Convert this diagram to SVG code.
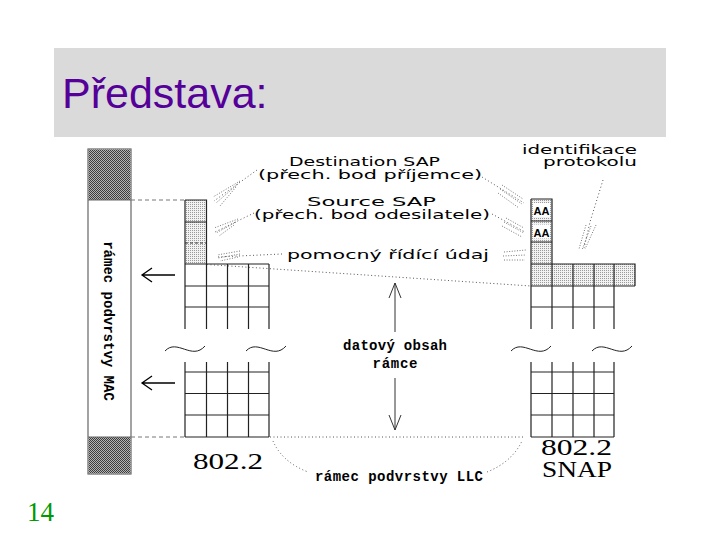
<svg xmlns="http://www.w3.org/2000/svg" width="720" height="540" viewBox="0 0 720 540">
<defs>
<pattern id="hd" width="2" height="2" patternUnits="userSpaceOnUse"><rect width="2" height="2" fill="#b4b4b4"/><rect width="1" height="1" fill="#3c3c3c"/><rect x="1" y="1" width="1" height="1" fill="#3c3c3c"/></pattern>
<pattern id="hl" width="2" height="2" patternUnits="userSpaceOnUse"><rect width="2" height="2" fill="#f2f2f2"/><rect width="1" height="1" fill="#9a9a9a"/></pattern>
<style>
.g{fill:none;stroke:#222;stroke-width:1.2}
.dot{fill:none;stroke:#555;stroke-width:1;stroke-dasharray:1 2.5}
.spr{fill:none;stroke:#777;stroke-width:1;stroke-dasharray:1 1.6}
.lbl{font-family:"DejaVu Sans",sans-serif;font-size:13px;fill:#000}
.mono{font-family:"Liberation Mono",monospace;font-weight:bold;font-size:14px;fill:#000}
.ser{font-family:"Liberation Serif",serif;font-size:23px;fill:#000}
.wave{fill:none;stroke:#222;stroke-width:1}
.arr{fill:none;stroke:#000;stroke-width:1.3}
</style>
</defs>
<rect width="720" height="540" fill="#fff"/>
<g id="header">
<rect x="54" y="48" width="612" height="89" fill="#dadada"/>
<text x="62" y="108" font-family="Liberation Sans, Arial, sans-serif" font-size="43" fill="#550099">Představa:</text>
</g>
<g id="page"><text x="27" y="521" font-family="Liberation Serif, serif" font-size="27" fill="#009900">14</text></g>

<g id="mac">
<rect x="88" y="149" width="43" height="325" fill="#fff" stroke="#666" stroke-width="1.2"/>
<rect x="88.6" y="149.6" width="41.8" height="50.4" fill="url(#hd)"/>
<rect x="88.6" y="437" width="41.8" height="36.4" fill="url(#hd)"/>
<line x1="88" y1="200" x2="131" y2="200" stroke="#666"/>
<line x1="88" y1="437" x2="131" y2="437" stroke="#666"/>
<text class="mono" font-size="12.5" transform="translate(104,321) rotate(90)" text-anchor="middle">rámec podvrstvy MAC</text>
</g>

<g id="left-stack">
<rect x="185" y="200" width="21.5" height="64" fill="url(#hl)"/>
<path class="g" d="M185,200 H206.5 V264 M185,200 V329 M185,222 H206.5 M206.5,264 V329 M227.5,264 V329 M248.5,264 V329 M269,264 V329 M185,264 H269 M185,286 H269 M185,307 H269"/>
<path d="M185,243 H206.5" stroke="#333" stroke-dasharray="3 2"/>
<path class="g" d="M185,362 V437 M206.5,362 V437 M227.5,362 V437 M248.5,362 V437 M269,362 V437 M185,372 H269 M185,393.5 H269 M185,415 H269 M185,437 H269"/>
<path class="wave" d="M165,351 C177,338 192,361 205,346"/>
<path class="wave" d="M246,351 C258,338 273,361 286,346"/>
<text class="ser" x="193" y="469" textLength="70" lengthAdjust="spacingAndGlyphs">802.2</text>
</g>

<g id="right-stack">
<rect x="531" y="199" width="21" height="65" fill="url(#hl)"/>
<rect x="531" y="264" width="104" height="22" fill="url(#hl)"/>
<rect x="533" y="203" width="17" height="14" fill="#fff"/>
<rect x="533" y="224.5" width="17" height="14" fill="#fff"/>
<text x="541.5" y="215" text-anchor="middle" font-family="Liberation Sans, sans-serif" font-weight="bold" font-size="11.5" textLength="16" lengthAdjust="spacingAndGlyphs">AA</text>
<text x="541.5" y="236.5" text-anchor="middle" font-family="Liberation Sans, sans-serif" font-weight="bold" font-size="11.5" textLength="16" lengthAdjust="spacingAndGlyphs">AA</text>
<path class="g" d="M531,199 H552 V264 M531,199 V329 M531,221 H552 M531,242 H552 M531,264 H635 V286 M531,286 H635 M552,264 V329 M573,264 V329 M594,264 V329 M614,264 V329 M531,307 H614"/>
<path class="g" d="M531,362 V437 M552,362 V437 M573,362 V437 M594,362 V437 M614,362 V437 M531,372 H614 M531,393.5 H614 M531,415 H614 M531,437 H614"/>
<path class="wave" d="M511,351 C523,338 538,361 551,346"/>
<path class="wave" d="M592,351 C604,338 619,361 632,346"/>
<text class="ser" x="541" y="455" textLength="71" lengthAdjust="spacingAndGlyphs">802.2</text>
<text class="ser" x="542" y="477" textLength="70" lengthAdjust="spacingAndGlyphs">SNAP</text>
</g>

<g id="labels">
<text class="lbl" x="289" y="166" textLength="151" lengthAdjust="spacingAndGlyphs">Destination SAP</text>
<text class="lbl" x="258" y="179" textLength="224" lengthAdjust="spacingAndGlyphs">(přech. bod příjemce)</text>
<text class="lbl" x="307" y="206" textLength="129" lengthAdjust="spacingAndGlyphs">Source SAP</text>
<text class="lbl" x="254" y="219" textLength="236" lengthAdjust="spacingAndGlyphs">(přech. bod odesilatele)</text>
<text class="lbl" x="287" y="259" textLength="202" lengthAdjust="spacingAndGlyphs">pomocný řídící údaj</text>
<text class="lbl" x="522" y="154" textLength="115" lengthAdjust="spacingAndGlyphs">identifikace</text>
<text class="lbl" x="543" y="166" textLength="94" lengthAdjust="spacingAndGlyphs">protokolu</text>
<text class="mono" x="395" y="350" text-anchor="middle" textLength="104" lengthAdjust="spacing">datový obsah</text>
<text class="mono" x="395" y="368" text-anchor="middle" textLength="45" lengthAdjust="spacing">rámce</text>
<text class="mono" x="399" y="481" text-anchor="middle" textLength="168" lengthAdjust="spacing">rámec podvrstvy LLC</text>
</g>

<g id="connectors">
<line x1="131" y1="200" x2="185" y2="200" stroke="#777" stroke-dasharray="4 3"/>
<line x1="131" y1="437" x2="185" y2="437" stroke="#777" stroke-dasharray="4 3"/>
<path class="arr" d="M175,275 H142 M152,268 L142,275 L152,282"/>
<path class="arr" d="M175,383 H142 M152,376 L142,383 L152,390"/>
<path stroke="#333" fill="none" d="M395,332 V283 M389,298 L395,283 L401,298"/>
<path stroke="#333" fill="none" d="M395,378 V430 M389,415 L395,430 L401,415"/>
<path class="dot" d="M207,264.5 L531,286"/>
<path class="dot" d="M270,437 H525"/>
<path class="dot" d="M273,441 Q282,462 308,472"/>
<path class="dot" d="M487,472 Q512,462 522,441"/>
<path class="dot" d="M257,170 L214,201"/>
<path class="spr" d="M240,181 L213,197 M238,184 L216,203 M236,187 L220,206"/>
<path class="dot" d="M254,213 L215,232"/>
<path class="spr" d="M238,219 L214,228 M236,222 L216,233 M234,225 L219,236"/>
<path class="dot" d="M282,254 L217,257"/>
<path class="spr" d="M240,251 L217,255 M240,254 L218,258 M238,257 L220,261"/>
<path class="dot" d="M482,177 L524,203"/>
<path class="spr" d="M502,185 L523,199 M500,189 L522,204 M498,193 L519,208"/>
<path class="dot" d="M492,214 L525,232"/>
<path class="spr" d="M506,218 L524,228 M504,222 L524,233 M502,226 L522,237"/>
<path class="spr" d="M504,252 L526,250 M503,256 L526,255 M504,260 L525,260"/>
<path class="dot" d="M603,180 L590,222 L584,248"/>
<path class="spr" d="M596,225 L585,249 M591,226 L582,250 M586,225 L579,249"/>
</g>
</svg>
